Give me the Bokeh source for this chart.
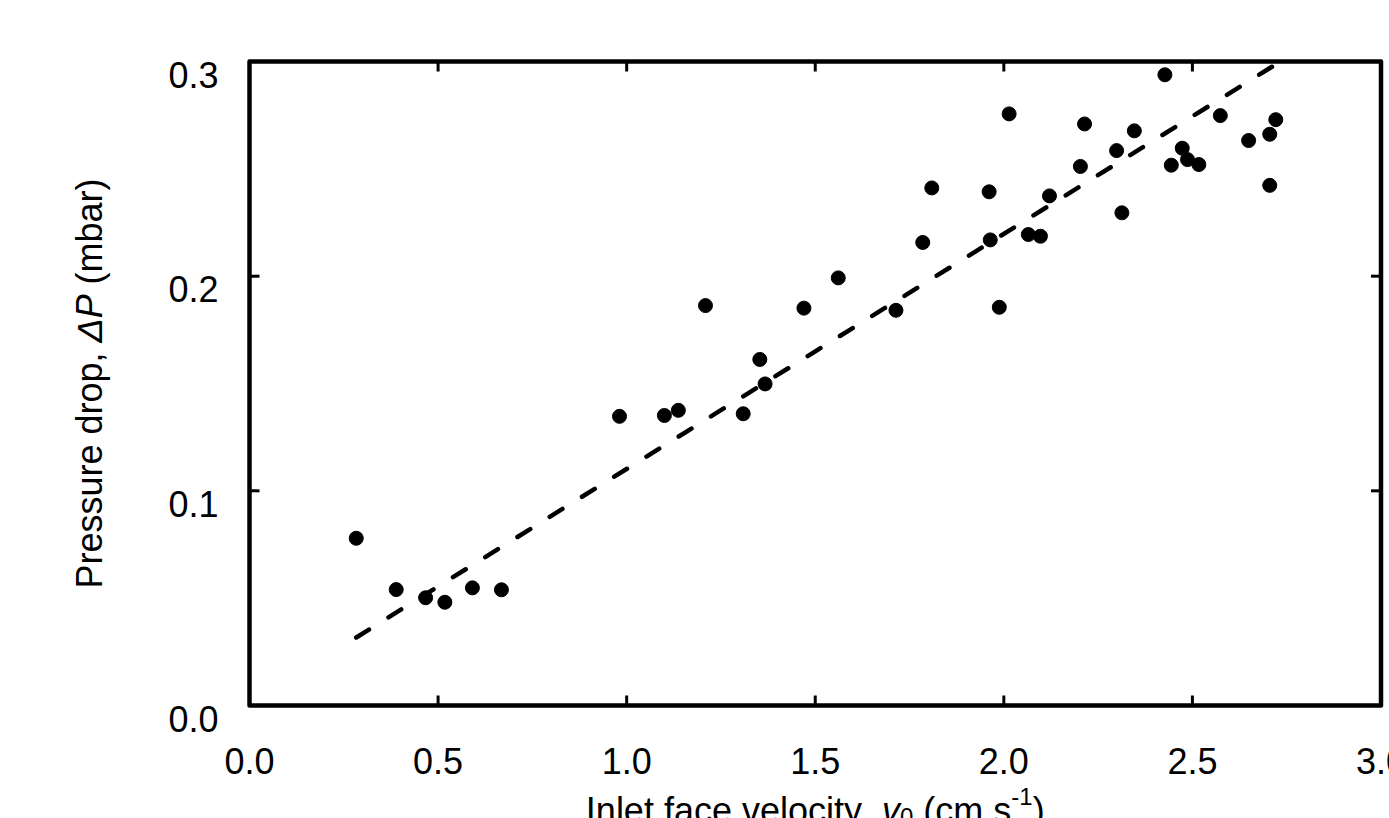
import math
from bokeh.plotting import figure
from bokeh.models import Range1d, Label, ColumnDataSource
from bokeh.core.properties import value
from bokeh.embed import file_html
from bokeh.resources import INLINE

# ---- data ----
velocity = [0.283, 0.389, 0.467, 0.518, 0.591, 0.668,
            0.981, 1.100, 1.137, 1.209, 1.309, 1.353, 1.367, 1.470, 1.561, 1.714, 1.785, 1.809,
            1.961, 2.014, 1.988, 1.964, 2.065, 2.097, 2.121, 2.203, 2.214, 2.299, 2.313, 2.346,
            2.427, 2.444, 2.473, 2.487, 2.517, 2.574, 2.649, 2.705, 2.721, 2.705]
pressure_drop = [0.0779, 0.0540, 0.0502, 0.0481, 0.0548, 0.0539,
                 0.1347, 0.1351, 0.1375, 0.1863, 0.1359, 0.1612, 0.1498, 0.1851, 0.1992, 0.1841, 0.2157, 0.2411,
                 0.2393, 0.2756, 0.1855, 0.2169, 0.2194, 0.2186, 0.2374, 0.2511, 0.2709, 0.2585, 0.2295, 0.2677,
                 0.2938, 0.2517, 0.2596, 0.2543, 0.2520, 0.2748, 0.2632, 0.2661, 0.2729, 0.2423]
fit_slope = 0.1095
fit_intercept = 0.0007

x_ticks = [0.0, 0.5, 1.0, 1.5, 2.0, 2.5, 3.0]
x_tick_labels = ["0.0", "0.5", "1.0", "1.5", "2.0", "2.5", "3.0"]
y_ticks = [0.0, 0.1, 0.2, 0.3]
y_tick_labels = ["0.0", "0.1", "0.2", "0.3"]

# ---- layout (pixels) ----
W, H = 1389, 818
FRAME_L, FRAME_R, FRAME_T, FRAME_B = 249, 1380.5, 61, 705
FONT = "Liberation Sans"
FS = 36
TICK_LEN = 10

x_min, x_max = x_ticks[0], x_ticks[-1]
y_min, y_max = y_ticks[0], y_ticks[-1]
xs = (FRAME_R - FRAME_L) / (x_max - x_min)
ys = (FRAME_B - FRAME_T) / (y_max - y_min)
x_lo = x_min - FRAME_L / xs
y_hi = y_max + FRAME_T / ys

p = figure(width=W, height=H, output_backend="svg", toolbar_location=None,
           x_range=Range1d(x_lo, x_lo + W / xs), y_range=Range1d(y_hi - H / ys, y_hi),
           x_axis_type=None, y_axis_type=None, min_border=0)
p.outline_line_color = None
p.background_fill_color = "white"
p.border_fill_color = "white"

# tick marks (inside, on all four sides)
tx = ColumnDataSource(dict(x=x_ticks))
p.segment(x0="x", x1="x", y0=y_min, y1=y_min + TICK_LEN / ys, source=tx, line_color="black", line_width=3)
p.segment(x0="x", x1="x", y0=y_max, y1=y_max - TICK_LEN / ys, source=tx, line_color="black", line_width=3)
ty = ColumnDataSource(dict(y=y_ticks))
p.segment(x0=x_min, x1=x_min + TICK_LEN / xs, y0="y", y1="y", source=ty, line_color="black", line_width=3)
p.segment(x0=x_max, x1=x_max - TICK_LEN / xs, y0="y", y1="y", source=ty, line_color="black", line_width=3)

# plot box
p.quad(left=x_min, right=x_max, bottom=y_min, top=y_max, fill_color=None,
       line_color="black", line_width=4.5, line_join="round")

# tick labels
X_LABEL_BASE = 760   # baseline, page pixels
p.text(x=x_ticks, y=[y_min - (X_LABEL_BASE - FRAME_B) / ys] * len(x_ticks), text=x_tick_labels,
       text_font=value(FONT), text_font_size=value(f"{FS}px"), text_color="black",
       text_align="center", text_baseline="alphabetic")
p.text(x=[x_min - 31 / xs] * len(y_ticks), y=[t - 13 / ys for t in y_ticks], text=y_tick_labels,
       text_font=value(FONT), text_font_size=value(f"{FS}px"), text_color="black",
       text_align="right", text_baseline="alphabetic")

# regression line over the data extent
fx = [min(velocity), max(velocity)]
fy = [fit_slope * v + fit_intercept for v in fx]
p.line(fx, fy, line_color="black", line_width=4.5, line_dash="15 23", line_cap="round")

# data points
p.scatter(velocity, pressure_drop, marker="circle", size=14,
          fill_color="black", line_color="black")

# ---- axis titles composed of styled runs ----
AW = {' ': 278, ',': 278, '(': 333, ')': 333, '-': 333, '0': 556, '1': 556, 'I': 278, 'P': 667,
      'Δ': 668, 'a': 556, 'b': 556, 'c': 500, 'd': 556, 'e': 556, 'f': 278, 'i': 222, 'l': 222,
      'm': 833, 'n': 556, 'o': 556, 'p': 556, 'r': 333, 's': 500, 't': 278, 'u': 556, 'v': 500,
      'y': 500}


def tw(s, size):
    return sum(AW.get(c, 556) for c in s) / 1000.0 * size


def place_runs(runs, start, make_label):
    cur = start
    for t, st, s, dy in runs:
        lead = len(t) - len(t.lstrip(" "))
        trail = len(t) - len(t.rstrip(" "))
        core = t.strip(" ")
        cur += tw(" " * lead, s)
        p.add_layout(make_label(core, st, s, dy, cur))
        cur += tw(core, s) + tw(" " * trail, s)


X_TITLE_BASE = 810  # baseline, page pixels
x_runs = [("Inlet face velocity, ", "normal", FS, 0),
          ("v", "italic", FS, 0),
          ("0", "normal", 24, -6),
          (" (cm s", "normal", FS, 0),
          ("-1", "normal", 24, 14),
          (")", "normal", FS, 0)]
total = sum(tw(t, s) for t, _, s, _ in x_runs)
xc = (x_min + x_max) / 2


def x_label(core, st, s, dy, cur):
    return Label(x=xc + cur / xs, y=y_min - (X_TITLE_BASE - dy - FRAME_B) / ys, text=core,
                 text_font=FONT, text_font_size=f"{s}px", text_font_style=st,
                 text_color="black", text_align="left", text_baseline="alphabetic")


place_runs(x_runs, -total / 2, x_label)

Y_TITLE_BASE = 89   # baseline x, page pixels
Y_TITLE_CENTER = 383
y_runs = [("Pressure drop, ", "normal", FS, 0),
          ("ΔP", "italic", FS, 0),
          (" (mbar)", "normal", FS, 0)]
total = sum(tw(t, s) for t, _, s, _ in y_runs)


def y_label(core, st, s, dy, cur):
    return Label(x=x_min - (FRAME_L - Y_TITLE_BASE) / xs, y=y_min + cur / ys, text=core,
                 angle=math.pi / 2, text_font=FONT, text_font_size=f"{s}px",
                 text_font_style=st, text_color="black", text_align="left",
                 text_baseline="alphabetic")


place_runs(y_runs, (FRAME_B - Y_TITLE_CENTER) - total / 2, y_label)

open("out.html", "w").write(file_html(p, INLINE))
